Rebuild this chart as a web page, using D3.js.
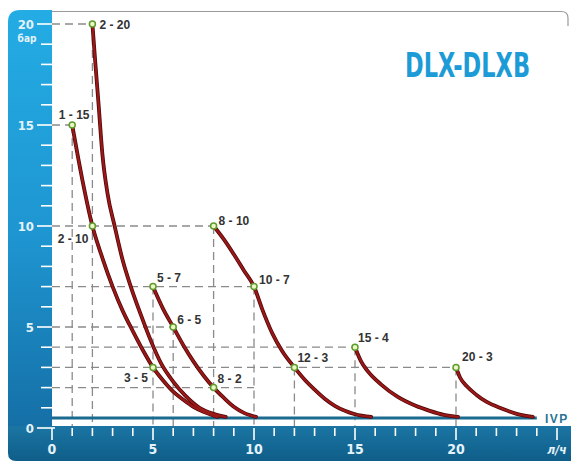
<!DOCTYPE html>
<html>
<head>
  <meta charset="utf-8">
  <title>DLX-DLXB</title>
  <script src="https://d3js.org/d3.v7.min.js"></script>
  <style>
    body {
      margin: 0;
      background: #fff;
    }
    svg {
      display: block;
      font-family: "Liberation Sans Narrow", "DejaVu Sans Condensed", "Liberation Sans", sans-serif;
      font-weight: bold;
    }
    .pt-label {
      font-family: "Liberation Sans", Arial, sans-serif;
      font-size: 12px;
      fill: #333;
    }
    .tick-label {
      fill: #e4f3fa;
      font-size: 14px;
    }
  </style>
</head>
<body>
  <div id="chart"></div>

  <script>
    // pump curves: [flow l/h, pressure bar]
    const curve1 = [[1, 15], [1.5, 12.3], [2, 10], [2.5, 8.4], [3, 7.0], [3.5, 5.8], [4, 4.8], [4.5, 3.85],
                    [5, 3], [5.5, 2.35], [6, 1.8], [6.5, 1.4], [7, 1.05], [7.5, 0.8], [8.2, 0.55]];
    const curve2 = [[2, 20], [2.15, 18], [2.3, 16.1], [2.5, 13.5], [2.75, 11.6], [3.1, 10], [3.5, 8.3],
                    [3.9, 7.0], [4.4, 5.6], [4.9, 4.3], [5.4, 3.2], [6, 2.3], [6.6, 1.6], [7.3, 1.0],
                    [8, 0.7], [8.6, 0.55]];
    const curve3 = [[5, 7], [5.5, 5.9], [6, 5], [6.5, 4.1], [7, 3.3], [7.5, 2.6], [8, 2], [8.5, 1.5],
                    [9, 1.05], [9.5, 0.75], [10.1, 0.55]];
    const curve4 = [[8, 10], [8.5, 9.35], [9, 8.6], [9.5, 7.8], [10, 7], [10.4, 5.9], [10.9, 4.7],
                    [11.4, 3.8], [12, 3], [12.5, 2.4], [13, 1.9], [13.5, 1.45], [14, 1.1], [14.5, 0.85],
                    [15, 0.68], [15.8, 0.55]];
    const curve5 = [[15, 4], [15.3, 3.3], [15.6, 2.85], [16.3, 2.15], [17.1, 1.55], [18, 1.1],
                    [18.7, 0.85], [19.4, 0.65], [20.1, 0.55]];
    const curve6 = [[20, 3], [20.2, 2.5], [20.55, 2.05], [21, 1.65], [21.5, 1.3], [22.3, 0.95],
                    [23, 0.7], [23.8, 0.55]];
    const curves = [curve1, curve2, curve3, curve4, curve5, curve6];

    // marked points: flow, pressure, label
    const points = [
      [2, 20, "2 - 20"], [1, 15, "1 - 15"], [2, 10, "2 - 10"], [5, 7, "5 - 7"], [6, 5, "6 - 5"],
      [5, 3, "3 - 5"], [8, 2, "8 - 2"], [8, 10, "8 - 10"], [10, 7, "10 - 7"], [12, 3, "12 - 3"],
      [15, 4, "15 - 4"], [20, 3, "20 - 3"]
    ];

    // dashed guides: [pressure, flow where it stops] and [flow, pressure where it starts]
    const hGuides = [[20, 2], [15, 1], [10, 8], [7, 10], [5, 6], [4, 15], [3, 20], [2, 10]];
    const vGuides = [[1, 15], [2, 20], [5, 7], [6, 5], [8, 10], [10, 7], [12, 3], [15, 4], [20, 3]];

    const ivpLevel = 0.5;
    const ivpEnd = 24;
    const yLabels = [0, 5, 10, 15, 20];
    const xLabels = [0, 5, 10, 15, 20];
    const yUnit = "бар";
    const xUnit = "л/ч";
    const title = "DLX-DLXB";

    // label placement next to each point (dx, dy, anchor)
    const labelPos = {
      "2 - 20": [7, 5, "start"], "1 - 15": [2, -6, "middle"], "2 - 10": [-4, 17, "end"],
      "5 - 7": [4, -5, "start"], "6 - 5": [4, -3, "start"], "3 - 5": [-5, 15, "end"],
      "8 - 2": [4, -5, "start"], "8 - 10": [5, -1, "start"], "10 - 7": [5, -3, "start"],
      "12 - 3": [3, -5, "start"], "15 - 4": [3, -5, "start"], "20 - 3": [6, -6, "start"]
    };

    const width = 571, height = 463;
    const svg = d3.select("#chart").append("svg")
      .attr("width", width)
      .attr("height", height);

    const x = d3.scaleLinear().domain([0, 25]).range([52, 557]);
    const y = d3.scaleLinear().domain([0, 20]).range([428, 24]);

    const defs = svg.append("defs");
    const gLeft = defs.append("linearGradient").attr("id", "gLeft")
      .attr("x1", 0).attr("y1", 0).attr("x2", 0).attr("y2", 1);
    gLeft.append("stop").attr("offset", "0%").attr("stop-color", "#24ace4");
    gLeft.append("stop").attr("offset", "55%").attr("stop-color", "#1e95d0");
    gLeft.append("stop").attr("offset", "100%").attr("stop-color", "#156fa6");
    const gBottom = defs.append("linearGradient").attr("id", "gBottom")
      .attr("x1", 0).attr("y1", 0).attr("x2", 0).attr("y2", 1);
    gBottom.append("stop").attr("offset", "0%").attr("stop-color", "#1b75a3");
    gBottom.append("stop").attr("offset", "100%").attr("stop-color", "#0f5e89");

    // frame: grey top border, blue left panel, dark bottom panel
    svg.append("path")
      .attr("d", "M52,11.5 H561 Q568,11.5 568,18 V26")
      .attr("fill", "none")
      .attr("stroke", "#999")
      .attr("stroke-width", 1.2);

    svg.append("path")
      .attr("d", "M8,428 V22 Q8,10 20,10 H52 V428 Z")
      .attr("fill", "url(#gLeft)");

    // dashed guides
    const guides = svg.append("g")
      .attr("stroke", "#8a8a8a")
      .attr("stroke-width", 1.3)
      .attr("stroke-dasharray", "8,5");

    guides.selectAll("line.h")
      .data(hGuides)
      .join("line")
      .attr("class", "h")
      .attr("x1", x(0)).attr("x2", d => x(d[1]))
      .attr("y1", d => y(d[0])).attr("y2", d => y(d[0]));

    guides.selectAll("line.v")
      .data(vGuides)
      .join("line")
      .attr("class", "v")
      .attr("x1", d => x(d[0])).attr("x2", d => x(d[0]))
      .attr("y1", d => y(d[1])).attr("y2", y(0));

    // IVP line
    svg.append("line")
      .attr("x1", x(0)).attr("x2", x(ivpEnd))
      .attr("y1", y(ivpLevel)).attr("y2", y(ivpLevel))
      .attr("stroke", "#1b6a8f")
      .attr("stroke-width", 3);

    svg.append("text")
      .attr("x", 545)
      .attr("y", y(ivpLevel) + 5)
      .attr("fill", "#2a7394")
      .attr("font-family", "Liberation Sans, Arial, sans-serif")
      .attr("font-size", 12)
      .attr("letter-spacing", 1.5)
      .text("IVP");

    // bottom panel over guides
    svg.append("path")
      .attr("d", "M8,426 H571 V461 H16 Q8,461 8,453 Z")
      .attr("fill", "url(#gBottom)");

    // curves
    const line = d3.line()
      .x(d => x(d[0]))
      .y(d => y(d[1]))
      .curve(d3.curveMonotoneX);

    svg.append("g")
      .selectAll("path.under")
      .data(curves)
      .join("path")
      .attr("d", line)
      .attr("fill", "none")
      .attr("stroke", "#4d0707")
      .attr("stroke-width", 3.8)
      .attr("stroke-linecap", "round");

    svg.append("g")
      .selectAll("path.over")
      .data(curves)
      .join("path")
      .attr("d", line)
      .attr("fill", "none")
      .attr("stroke", "#9b1818")
      .attr("stroke-width", 2.3)
      .attr("stroke-linecap", "round");

    // points and labels
    svg.append("g")
      .selectAll("circle")
      .data(points)
      .join("circle")
      .attr("cx", d => x(d[0]))
      .attr("cy", d => y(d[1]))
      .attr("r", 3)
      .attr("fill", "#eaf6c4")
      .attr("stroke", "#5e9a2c")
      .attr("stroke-width", 1.5);

    svg.append("g")
      .selectAll("text")
      .data(points)
      .join("text")
      .attr("class", "pt-label")
      .attr("x", d => x(d[0]) + labelPos[d[2]][0])
      .attr("y", d => y(d[1]) + labelPos[d[2]][1])
      .attr("text-anchor", d => labelPos[d[2]][2])
      .text(d => d[2]);

    // y axis ticks on the left panel
    const yTicks = svg.append("g").attr("stroke", "#fff").attr("stroke-width", 1.6);
    yTicks.selectAll("line")
      .data(d3.range(0, 21))
      .join("line")
      .attr("x1", d => d % 5 === 0 ? 37 : 41)
      .attr("x2", d => d === 0 ? 55 : 52)
      .attr("y1", d => y(d)).attr("y2", d => y(d));

    svg.append("g")
      .selectAll("text")
      .data(yLabels)
      .join("text")
      .attr("class", "tick-label")
      .attr("x", 34)
      .attr("y", d => y(d) + 5)
      .attr("text-anchor", "end")
      .style("font-size", "13px")
      .text(d => d);

    svg.append("text")
      .attr("class", "tick-label")
      .attr("x", 27)
      .attr("y", y(20) + 18)
      .attr("text-anchor", "middle")
      .style("font-size", "10px")
      .text(yUnit);

    // x axis ticks on the bottom panel
    const xTicks = svg.append("g").attr("stroke", "#fff").attr("stroke-width", 1.6);
    xTicks.selectAll("line")
      .data(d3.range(0, 26))
      .join("line")
      .attr("x1", d => x(d)).attr("x2", d => x(d))
      .attr("y1", y(0))
      .attr("y2", d => d % 5 === 0 ? 440 : 436);

    svg.append("g")
      .selectAll("text")
      .data(xLabels)
      .join("text")
      .attr("class", "tick-label")
      .attr("x", d => x(d))
      .attr("y", 454)
      .attr("text-anchor", "middle")
      .text(d => d);

    svg.append("text")
      .attr("class", "tick-label")
      .attr("x", x(25))
      .attr("y", 454)
      .attr("text-anchor", "middle")
      .style("font-size", "12px")
      .style("font-style", "italic")
      .text(xUnit);

    // title
    svg.append("text")
      .attr("x", 405)
      .attr("y", 77)
      .attr("fill", "#1c9bd7")
      .attr("font-size", 33)
      .attr("textLength", 125)
      .attr("lengthAdjust", "spacingAndGlyphs")
      .text(title);
  </script>
</body>
</html>
